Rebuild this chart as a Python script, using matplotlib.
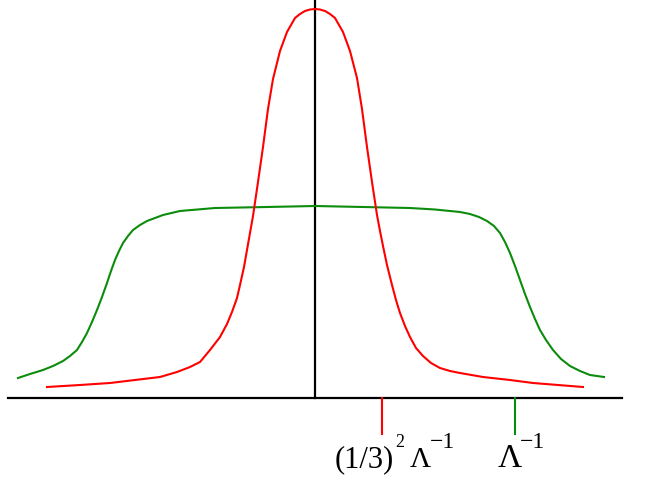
import matplotlib
matplotlib.use('agg')
import matplotlib.pyplot as plt

# curves: x from the vertical axis, y = height above the horizontal axis
red_x = [-268, -235, -205, -180, -155, -138, -125, -115, -105, -95, -88, -83, -78, -75, -71,
         -68, -65, -62, -57, -52, -47, -42, -35, -28, -20, -15, -10, -5, 0, 5, 10, 15, 20,
         28, 35, 42, 47, 52, 57, 62, 65, 68, 72, 77, 81, 85, 90, 95, 101, 108, 116, 125, 135,
         145, 168, 195, 218, 268]
red_y = [11, 13, 15, 18, 21, 26, 31, 36, 48, 61, 74, 86, 100, 113, 131,
         148, 165, 182, 216, 251, 289, 319, 347, 366, 380, 384, 387, 388.5, 389, 388.5, 387,
         384, 380, 366, 347, 320, 289, 251, 216, 183, 167, 152, 133, 113, 98, 85, 72, 61, 50,
         42, 35, 30, 27, 25, 21, 18, 15, 11]

green_x = [-297, -285, -272, -262, -252, -245, -238, -233, -228, -223, -218, -213, -208, -204,
           -200, -196, -192, -187, -182, -175, -168, -160, -152, -135, -100, -48, 0,
           48, 95, 120, 135, 145, 155, 164, 172, 179, 185, 190, 195, 200, 205, 210, 215, 220,
           225, 231, 238, 246, 255, 265, 275, 289]
green_y = [20, 24, 28, 32, 37, 42, 48, 56, 65, 76, 88, 101, 115, 127,
           138, 147, 155, 162, 168, 173, 177, 180, 183, 187, 190, 191, 192,
           191, 190, 188.5, 187, 186, 184, 181, 177, 172, 165, 156, 145, 132, 118, 104, 91, 79,
           68, 58, 48, 39, 32, 27, 23, 21]

tick_pos = [67, 200]
tick_colors = ['red', '#0c8c0c']

plt.rcParams['font.family'] = ['Liberation Serif', 'DejaVu Serif']

fig = plt.figure(figsize=(6.55, 4.92), dpi=100)
ax = fig.add_axes([0, 0, 1, 1])
ax.set_xlim(-315, 340)
ax.set_ylim(-94, 398)
ax.axis('off')

ax.plot([-307, 307], [0, 0], color='black', lw=1.6)
ax.plot([0, 0], [0, 398], color='black', lw=1.6)

ax.plot(green_x, green_y, color='#0c8c0c', lw=1.5, solid_joinstyle='round')
ax.plot(red_x, red_y, color='red', lw=1.5, solid_joinstyle='round')

for p, c in zip(tick_pos, tick_colors):
    ax.plot([p, p], [0, -36], color=c, lw=1.5)

# tick labels, built from pieces like the original drawing
ax.text(20, -69, '(1/3)', fontsize=22, va='baseline')
ax.text(80, -49, '2', fontsize=13, va='baseline')
ax.text(95, -69, '\u039b', fontsize=21, va='baseline')
ax.text(115, -50, '\u22121', fontsize=17, va='baseline')

ax.text(183, -69, '\u039b', fontsize=24, va='baseline')
ax.text(205, -50, '\u22121', fontsize=17, va='baseline')

plt.savefig('out.png', dpi=100)
